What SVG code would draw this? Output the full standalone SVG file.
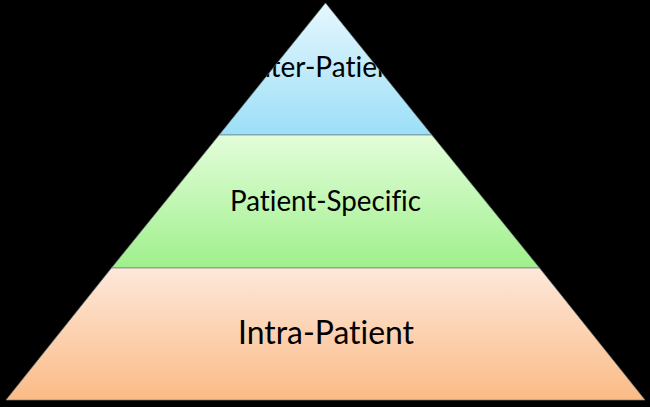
<svg xmlns="http://www.w3.org/2000/svg" width="650" height="407" viewBox="0 0 650 407">
  <style>
    .tier { stroke: #6f8080; stroke-opacity: 0.7; stroke-width: 1; }
    .label { font-family: Lato, "Open Sans", "Liberation Sans", sans-serif; fill: #000000; font-variant-ligatures: none; font-feature-settings: "liga" 0, "clig" 0; }
  </style>
  <defs>
    <linearGradient id="gBlue" x1="0" y1="0" x2="0" y2="1">
      <stop offset="0" stop-color="#e6f7fd"/>
      <stop offset="1" stop-color="#9cdff8"/>
    </linearGradient>
    <linearGradient id="gGreen" x1="0" y1="0" x2="0" y2="1">
      <stop offset="0" stop-color="#e3fdda"/>
      <stop offset="1" stop-color="#9ff08c"/>
    </linearGradient>
    <linearGradient id="gOrange" x1="0" y1="0" x2="0" y2="1">
      <stop offset="0" stop-color="#fde8da"/>
      <stop offset="1" stop-color="#fbbb86"/>
    </linearGradient>
    <clipPath id="clipTop">
      <polygon points="325.5,3 431.8,135 219.2,135"/>
    </clipPath>
  </defs>
  <rect x="0" y="0" width="650" height="407" fill="#000000"/>
  <g id="tier-inter-patient">
    <polygon class="tier" points="325.5,3 431.8,135 219.2,135" fill="url(#gBlue)"/>
    <g clip-path="url(#clipTop)">
      <text class="label" x="247.5" y="77" font-size="29.5" textLength="155" lengthAdjust="spacingAndGlyphs">Inter-Patient</text>
    </g>
  </g>
  <g id="tier-patient-specific">
    <polygon class="tier" points="219.2,135 431.8,135 539.5,268 111.5,268" fill="url(#gGreen)"/>
    <text class="label" x="230" y="211" font-size="29.5" textLength="191" lengthAdjust="spacingAndGlyphs">Patient-Specific</text>
  </g>
  <g id="tier-intra-patient">
    <polygon class="tier" points="111.5,268 539.5,268 645,400 6,400" fill="url(#gOrange)"/>
    <text class="label" x="238" y="344" font-size="33" textLength="176" lengthAdjust="spacingAndGlyphs">Intra-Patient</text>
  </g>
  <g id="connectors"/>
</svg>
